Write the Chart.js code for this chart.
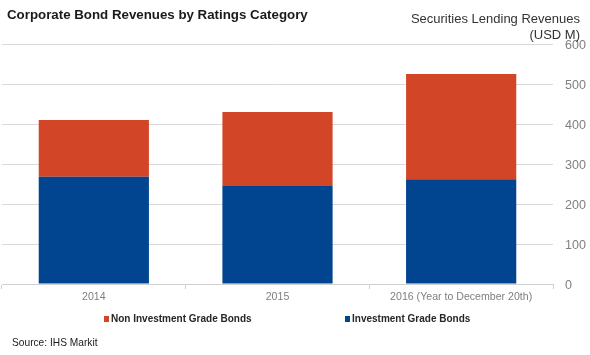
<!DOCTYPE html>
<html>
<head>
<meta charset="utf-8">
<script src="https://cdn.jsdelivr.net/npm/chart.js@4/dist/chart.umd.min.js"></script>
<style>
  html, body { margin: 0; padding: 0; background: #fff; }
  #wrap { position: relative; width: 590px; height: 355px; }
</style>
</head>
<body>
<div id="wrap"><canvas id="c" width="590" height="355"></canvas></div>
<script>
const categories = ['2014', '2015', '2016 (Year to December 20th)'];
const investmentGrade = [268, 245, 262];
const nonInvestmentGrade = [142, 185, 263];
const yTicks = [0, 100, 200, 300, 400, 500, 600];
const seriesNames = ['Non Investment Grade Bonds', 'Investment Grade Bonds'];
const titleText = 'Corporate Bond Revenues by Ratings Category';
const axisTitleLines = ['Securities Lending Revenues', '(USD M)'];
const sourceText = 'Source: IHS Markit';

const RED = '#d24627';
const BLUE = '#01448f';
const FONT = '"Liberation Sans", Arial, sans-serif';

const textPlugin = {
  id: 'texts',
  afterDraw(chart) {
    const ctx = chart.ctx;
    ctx.save();
    ctx.textBaseline = 'middle';
    // title
    ctx.fillStyle = '#1a1a1a';
    ctx.font = 'bold 13.3px ' + FONT;
    ctx.textAlign = 'left';
    ctx.fillText(titleText, 7, 15);
    // axis title
    ctx.fillStyle = '#333333';
    ctx.font = '13px ' + FONT;
    ctx.textAlign = 'right';
    ctx.fillText(axisTitleLines[0], 580, 19);
    ctx.fillText(axisTitleLines[1], 580, 35);
    // legend
    ctx.font = 'bold 10px ' + FONT;
    ctx.textAlign = 'left';
    const legendItems = [
      { x: 104, color: RED, label: seriesNames[0] },
      { x: 345, color: BLUE, label: seriesNames[1] }
    ];
    legendItems.forEach(it => {
      ctx.fillStyle = it.color;
      ctx.fillRect(it.x, 316, 5, 6);
      ctx.fillStyle = '#262626';
      ctx.fillText(it.label, it.x + 7, 319.5);
    });
    // source
    ctx.font = '10.2px ' + FONT;
    ctx.fillStyle = '#1a1a1a';
    ctx.fillText(sourceText, 12, 343.5);
    ctx.restore();
  }
};

new Chart(document.getElementById('c'), {
  type: 'bar',
  data: {
    labels: categories,
    datasets: [
      { label: seriesNames[1], data: investmentGrade, backgroundColor: BLUE, stack: 's' },
      { label: seriesNames[0], data: nonInvestmentGrade, backgroundColor: RED, stack: 's' }
    ]
  },
  options: {
    responsive: false,
    animation: false,
    devicePixelRatio: 1,
    layout: { padding: { left: 2, top: 44, right: 0, bottom: 0 } },
    plugins: { legend: { display: false }, title: { display: false }, tooltip: { enabled: false } },
    datasets: { bar: { categoryPercentage: 0.6, barPercentage: 1.0 } },
    scales: {
      x: {
        stacked: true,
        offset: true,
        grid: { offset: true, drawOnChartArea: false, drawTicks: true, tickLength: 5, color: '#d0d0d0' },
        border: { display: true, color: '#d0d0d0' },
        ticks: { color: '#7f7f7f', font: { family: FONT, size: 10.6 }, padding: 2, maxRotation: 0 },
        afterFit(scale) { scale.height = 71; }
      },
      y: {
        stacked: true,
        position: 'right',
        min: 0,
        max: 600,
        afterBuildTicks(scale) { scale.ticks = yTicks.map(v => ({ value: v })); },
        grid: { color: '#d9d9d9', drawTicks: false, lineWidth: 1 },
        border: { display: false },
        ticks: { color: '#808080', font: { family: FONT, size: 12.5 }, padding: 12, labelOffset: 1.5 },
        afterFit(scale) { scale.width = 37; }
      }
    }
  },
  plugins: [textPlugin]
});
</script>
</body>
</html>
